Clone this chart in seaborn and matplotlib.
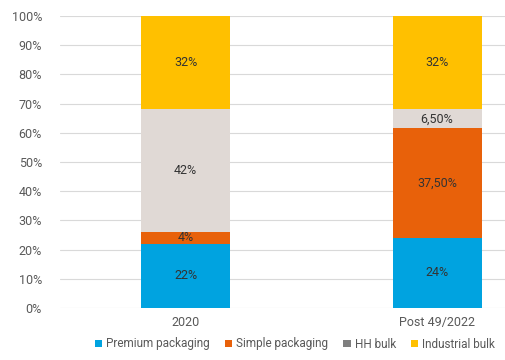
import matplotlib

matplotlib.use('Agg')
import matplotlib.pyplot as plt
from matplotlib.patches import Patch
import numpy as np
import seaborn as sns

categories = ['2020', 'Post 49/2022']
series = ['Premium packaging', 'Simple packaging', 'HH bulk', 'Industrial bulk']
premium = [22, 24]
simple = [4, 37.5]
hh_bulk = [42, 6.5]
industrial = [32, 32]
labels = [['22%', '24%'], ['4%', '37,50%'], ['42%', '6,50%'], ['32%', '32%']]
y_ticks = [0, 10, 20, 30, 40, 50, 60, 70, 80, 90, 100]

bar_colors = ['#00A3E0', '#E8610A', '#E0D9D5', '#FFC000']
legend_colors = ['#00A3E0', '#E8610A', '#7F7F7F', '#FFC000']

sns.set_theme(style='white')
plt.rcParams['font.family'] = ['Roboto', 'DejaVu Sans']

fig = plt.figure(figsize=(5.06, 3.6), dpi=100)
ax = fig.add_axes([60 / 506, 52 / 360, 446 / 506, 292 / 360])

bottom = np.zeros(len(categories))
for values, color in zip([premium, simple, hh_bulk, industrial], bar_colors):
    sns.barplot(x=categories, y=values, bottom=bottom, color=color,
                width=0.354, saturation=1, linewidth=0, ax=ax, zorder=3)
    bottom += np.array(values)

for container, lab in zip(ax.containers, labels):
    texts = ax.bar_label(container, labels=lab, label_type='center',
                         fontsize=9, color='#333333')
    for t in texts:
        t.set_zorder(6)

ax.set_xlim(-0.5, 1.274)
ax.set_ylim(0, 100)
ax.set_yticks(y_ticks)
ax.set_yticklabels([f'{t}%' for t in y_ticks])
ax.yaxis.grid(True, color='#D9D9D9', linewidth=0.8, zorder=0)
ax.set_axisbelow(True)
for spine in ax.spines.values():
    spine.set_visible(False)
ax.tick_params(axis='both', length=0, labelsize=9, labelcolor='#595959')
ax.tick_params(axis='x', pad=6)
ax.tick_params(axis='y', pad=13)

handles = [Patch(facecolor=c, edgecolor='none') for c in legend_colors]
fig.legend(handles, series, loc='center', bbox_to_anchor=(295 / 506, 16 / 360),
           ncol=4, frameon=False, fontsize=8.5, handlelength=0.6, handleheight=0.6,
           handletextpad=0.35, columnspacing=1.3, labelcolor='#595959')

fig.savefig('out.png', dpi=100)
